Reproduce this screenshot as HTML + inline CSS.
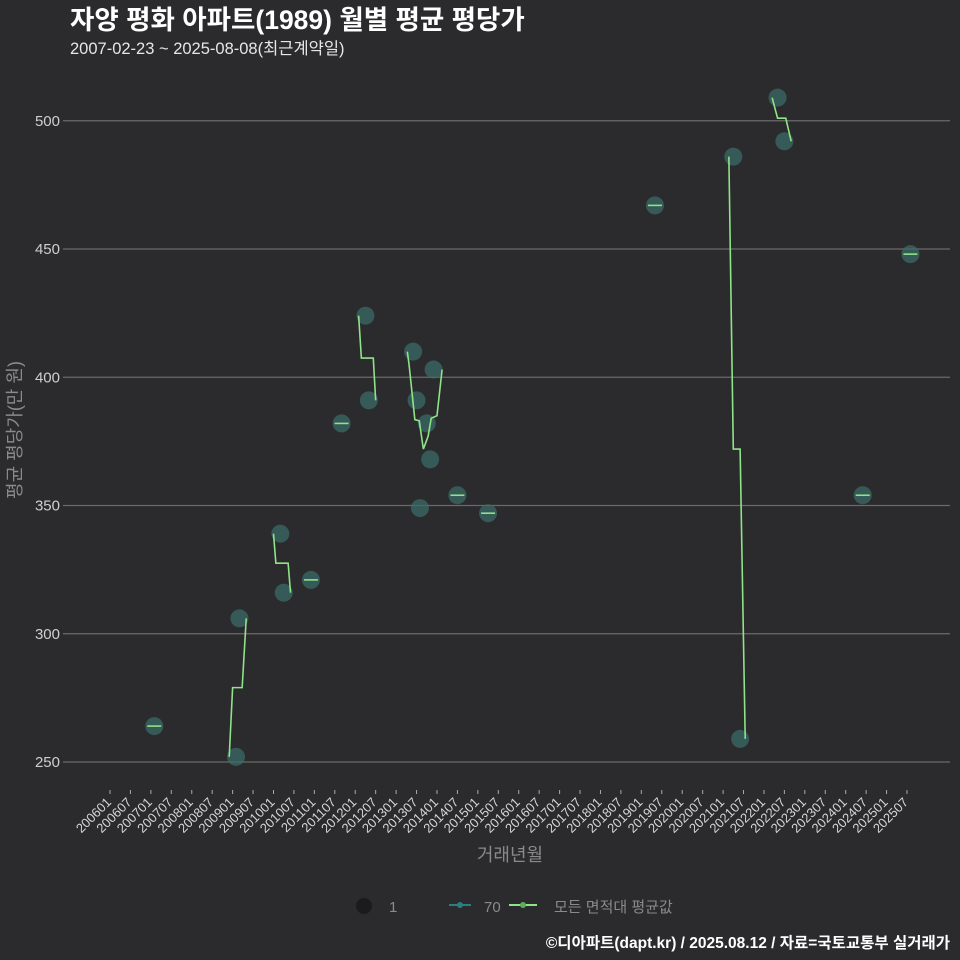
<!DOCTYPE html>
<html><head><meta charset="utf-8"><style>
body{margin:0;background:#2b2b2d;}
svg{display:block;font-family:"Liberation Sans","Noto Sans CJK KR",sans-serif;}
</style></head><body>
<svg id="c" width="960" height="960" viewBox="0 0 960 960">
<rect width="960" height="960" fill="#2b2b2d"/>
<text x="70" y="29" fill="#ffffff" font-size="26.5" font-weight="bold">자양 평화 아파트(1989) 월별 평균 평당가</text>
<text x="70" y="54" fill="#e6e6e6" font-size="16.5">2007-02-23 ~ 2025-08-08(최근계약일)</text>
<g id="grid"></g><g id="marks"></g>
<text transform="translate(21,430) rotate(-90)" text-anchor="middle" fill="#8a8a8a" font-size="18">평균 평당가(만 원)</text>
<text x="510" y="861" text-anchor="middle" fill="#8a8a8a" font-size="18">거래년월</text>
<g>
<circle cx="364" cy="906" r="8" fill="#1b1b1c"/>
<text x="389" y="912" fill="#8a8a8a" font-size="15">1</text>
<line x1="449" y1="905" x2="471" y2="905" stroke="#2a7f80" stroke-width="2"/>
<circle cx="460" cy="905" r="3" fill="#2a7f80"/>
<text x="484" y="912" fill="#8a8a8a" font-size="15">70</text>
<line x1="509" y1="905" x2="537" y2="905" stroke="#8fe388" stroke-width="2"/>
<circle cx="523" cy="905" r="3" fill="#5cae5a"/>
<text x="554" y="912" fill="#8a8a8a" font-size="15">모든 면적대 평균값</text>
</g>
<text x="950" y="948" text-anchor="end" fill="#ffffff" font-size="15.5" font-weight="bold">©디아파트(dapt.kr) / 2025.08.12 / 자료=국토교통부 실거래가</text>
</svg>
<script>
const yTicks=[250,300,350,400,450,500];
const tickMonths=[];for(let i=0;i<40;i++)tickMonths.push(i*6);
const pointMonths=[13,37,38,50,51,59,68,75,76,89,90,91,93,94,95,102,111,160,183,185,196,198,221,235];
const pointValues=[264,252,306,339,316,321,382,424,391,410,391,349,382,368,403,354,347,467,486,259,509,492,354,448];
const singleMonths=[13,59,68,102,111,160,221,235];
const singleValues=[264,321,382,354,347,467,354,448];
const seg1Months=[35,36,38.8,40];const seg1Values=[252,279,279,306];
const seg2Months=[48,48.7,52.3,53];const seg2Values=[339,327.5,327.5,316];
const seg3Months=[73,73.8,77.3,78];const seg3Values=[424,407.5,407.5,391];
const seg4Months=[87.3,87.8,89.5,90.8,92,93.4,94.3,96,97.5];const seg4Values=[410,405,383.5,383,372,377,384,385,403];
const seg5Months=[181.7,183,185,186.5];const seg5Values=[486,372,372,259];
const seg6Months=[194.4,196,198.4,200];const seg6Values=[509,501,501,492];
const xs=m=>110+m*3.406;
const ys=v=>762-(v-250)*2.565;
const NS="http://www.w3.org/2000/svg";
const grid=document.getElementById('grid'),marks=document.getElementById('marks');
function mk(tag,attrs,parent){const e=document.createElementNS(NS,tag);for(const k in attrs)e.setAttribute(k,attrs[k]);parent.appendChild(e);return e;}
yTicks.forEach(v=>{
 const l=mk('line',{x1:63,x2:950,y1:ys(v),y2:ys(v),stroke:'#6a6a6a','stroke-width':1.2},grid);
 
 
 const t=mk('text',{x:60,y:ys(v)+5,'text-anchor':'end',fill:'#cfcfcf','font-size':15},grid);
 t.textContent=v;
 
 
});
tickMonths.forEach(m=>{
 const x=xs(m);
 const l=mk('line',{x1:x,x2:x,y1:790,y2:794,stroke:'#aaaaaa','stroke-width':1},grid);
 
 
 const yr=2006+Math.floor(m/12),mo=(m%12)+1;
 const t=mk('text',{transform:`translate(${x+2},803) rotate(-45)`,'text-anchor':'end',fill:'#d6d6d6','font-size':13},grid);
 t.textContent=yr+String(mo).padStart(2,'0');
 
 
});
pointMonths.forEach((m,i)=>{
 const c=mk('circle',{cx:xs(m),cy:ys(pointValues[i]),r:9,fill:'#3a6f69','fill-opacity':0.7},marks);
 
 
});
singleMonths.forEach((m,i)=>{
 const l=mk('line',{x1:xs(m)-7,x2:xs(m)+7,y1:ys(singleValues[i]),y2:ys(singleValues[i]),stroke:'#8fe388','stroke-width':1.6},marks);
 
 
});
[[seg1Months,seg1Values],[seg2Months,seg2Values],[seg3Months,seg3Values],[seg4Months,seg4Values],[seg5Months,seg5Values],[seg6Months,seg6Values]].forEach(s=>{
 const pts=s[0].map((m,i)=>xs(m)+','+ys(s[1][i])).join(' ');
 const p=mk('polyline',{points:pts,fill:'none',stroke:'#8fe388','stroke-width':1.6},marks);
 
 
});
</script>
</body></html>
